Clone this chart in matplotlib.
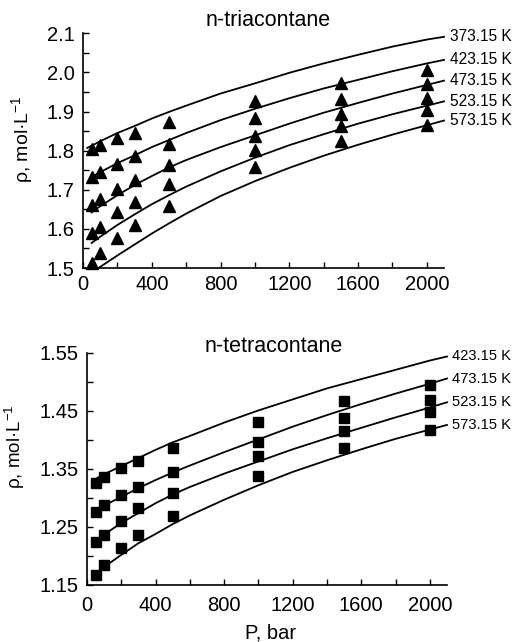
import matplotlib
matplotlib.use('Agg')
import matplotlib.pyplot as plt
from matplotlib.ticker import MultipleLocator, FormatStrFormatter

plt.rcParams['font.family'] = ['Liberation Sans', 'DejaVu Sans']
plt.rcParams['mathtext.fontset'] = 'custom'
plt.rcParams['mathtext.rm'] = 'Liberation Sans'
plt.rcParams['mathtext.it'] = 'Liberation Sans:italic'

# experimental pressures (bar)
P_exp = [50, 100, 200, 300, 500, 1000, 1500, 2000]

# n-triacontane, measured densities (mol/L)
tri_373 = [1.805, 1.815, 1.832, 1.846, 1.873, 1.928, 1.972, 2.006]
tri_423 = [1.733, 1.746, 1.767, 1.786, 1.818, 1.883, 1.932, 1.970]
tri_473 = [1.661, 1.676, 1.701, 1.725, 1.763, 1.837, 1.894, 1.934]
tri_523 = [1.589, 1.606, 1.642, 1.670, 1.715, 1.801, 1.862, 1.905]
tri_573 = [1.513, 1.538, 1.576, 1.609, 1.659, 1.757, 1.825, 1.866]

# model curves
P_fit = [50, 100, 200, 300, 400, 500, 600, 800, 1000, 1200, 1400, 1600, 1800, 2000, 2100]
P_fit_373 = [25, 100, 200, 300, 400, 500, 600, 800, 1000, 1200, 1400, 1600, 1800, 2000, 2100]
P_fit_573 = [90, 200, 300, 400, 500, 600, 800, 1000, 1200, 1400, 1600, 1800, 2000, 2100]
fit_373 = [1.807, 1.824, 1.845, 1.863, 1.882, 1.899, 1.915, 1.946, 1.972, 1.999, 2.023, 2.045, 2.066, 2.084, 2.091]
fit_423 = [1.733, 1.745, 1.768, 1.788, 1.809, 1.827, 1.845, 1.878, 1.907, 1.934, 1.959, 1.981, 2.003, 2.023, 2.032]
fit_473 = [1.642, 1.658, 1.686, 1.712, 1.735, 1.757, 1.776, 1.809, 1.839, 1.869, 1.897, 1.922, 1.946, 1.968, 1.979]
fit_523 = [1.564, 1.580, 1.610, 1.637, 1.663, 1.686, 1.708, 1.747, 1.782, 1.814, 1.842, 1.869, 1.893, 1.915, 1.926]
fit_573 = [1.500, 1.532, 1.560, 1.588, 1.614, 1.639, 1.684, 1.722, 1.756, 1.787, 1.815, 1.841, 1.865, 1.877]

# n-tetracontane, measured densities (mol/L)
sq_423 = [1.326, 1.336, 1.351, 1.363, 1.386, 1.431, 1.468, 1.495]
sq_473 = [1.275, 1.288, 1.305, 1.319, 1.344, 1.397, 1.438, 1.469]
sq_523 = [1.224, 1.236, 1.261, 1.282, 1.309, 1.372, 1.416, 1.448]
sq_573 = [1.168, 1.185, 1.213, 1.236, 1.269, 1.338, 1.387, 1.418]

fit40_423 = [1.333, 1.341, 1.355, 1.369, 1.383, 1.396, 1.407, 1.430, 1.451, 1.470, 1.489, 1.505, 1.521, 1.537, 1.544]
fit40_473 = [1.276, 1.287, 1.302, 1.317, 1.331, 1.344, 1.356, 1.379, 1.401, 1.423, 1.443, 1.462, 1.480, 1.497, 1.506]
fit40_523 = [1.224, 1.237, 1.257, 1.274, 1.291, 1.306, 1.319, 1.342, 1.363, 1.384, 1.403, 1.421, 1.439, 1.456, 1.465]
fit40_573 = [1.170, 1.181, 1.202, 1.222, 1.238, 1.255, 1.270, 1.297, 1.322, 1.345, 1.365, 1.384, 1.402, 1.418, 1.426]

W, H = 514, 642
fig = plt.figure(figsize=(W / 100, H / 100), dpi=100)
ax1 = fig.add_axes([83 / W, 1 - 268 / H, 361 / W, 234.7 / H])
ax2 = fig.add_axes([87 / W, 1 - 585 / H, 360 / W, 232 / H])


def style(ax):
    for s in ['top', 'right']:
        ax.spines[s].set_visible(False)
    for s in ['left', 'bottom']:
        ax.spines[s].set_linewidth(1.2)
    ax.xaxis.set_major_locator(MultipleLocator(400))
    ax.xaxis.set_minor_locator(MultipleLocator(200))
    ax.yaxis.set_minor_locator(MultipleLocator(0.05))
    ax.tick_params(which='both', direction='in', length=4, width=1, labelsize=14.5)
    ax.tick_params(axis='y', pad=6)
    ax.set_xlim(0, 2100)


# top panel - n-triacontane
style(ax1)
ax1.set_ylim(1.5, 2.1)
ax1.yaxis.set_major_locator(MultipleLocator(0.1))
ax1.yaxis.set_major_formatter(FormatStrFormatter('%.1f'))
ax1.tick_params(axis='x', pad=5)

fits = [(P_fit_373, fit_373, '373.15 K'), (P_fit, fit_423, '423.15 K'),
        (P_fit, fit_473, '473.15 K'), (P_fit, fit_523, '523.15 K'),
        (P_fit_573, fit_573, '573.15 K')]
for px, py, lab in fits:
    ax1.plot(px, py, color='black', linewidth=1.3, clip_on=False)
    ax1.annotate(lab, xy=(px[-1], py[-1]), xytext=(4, 0), textcoords='offset points',
                 va='center', ha='left', fontsize=11.2, annotation_clip=False)
for d in [tri_373, tri_423, tri_473, tri_523, tri_573]:
    ax1.plot(P_exp, d, linestyle='none', marker='^', color='black', markersize=8, clip_on=False)
fig.text(268 / W, 1 - 21 / H, 'n-triacontane', ha='center', va='center', fontsize=15.5)
fig.text(22 / W, 1 - 139 / H, r'ρ, mol·L$^{-1}$', rotation=90, ha='center', va='center', fontsize=14)

# bottom panel - n-tetracontane
style(ax2)
ax2.set_ylim(1.15, 1.55)
ax2.set_yticks([1.15, 1.25, 1.35, 1.45, 1.55])
ax2.tick_params(axis='x', pad=8)

fits40 = [(fit40_423, '423.15 K'), (fit40_473, '473.15 K'),
          (fit40_523, '523.15 K'), (fit40_573, '573.15 K')]
for py, lab in fits40:
    ax2.plot(P_fit, py, color='black', linewidth=1.3, clip_on=False)
    ax2.annotate(lab, xy=(P_fit[-1], py[-1]), xytext=(3.5, 0), textcoords='offset points',
                 va='center', ha='left', fontsize=10.6, annotation_clip=False)
for d in [sq_423, sq_473, sq_523, sq_573]:
    ax2.plot(P_exp, d, linestyle='none', marker='s', color='black', markersize=7.5, clip_on=False)
fig.text(274 / W, 1 - 347 / H, 'n-tetracontane', ha='center', va='center', fontsize=15.5)
fig.text(15 / W, 1 - 447 / H, r'ρ, mol·L$^{-1}$', rotation=90, ha='center', va='center', fontsize=13.5)
fig.text(271 / W, 1 - 633 / H, 'P, bar', ha='center', va='center', fontsize=14.5)

fig.savefig('out.png', dpi=100)
